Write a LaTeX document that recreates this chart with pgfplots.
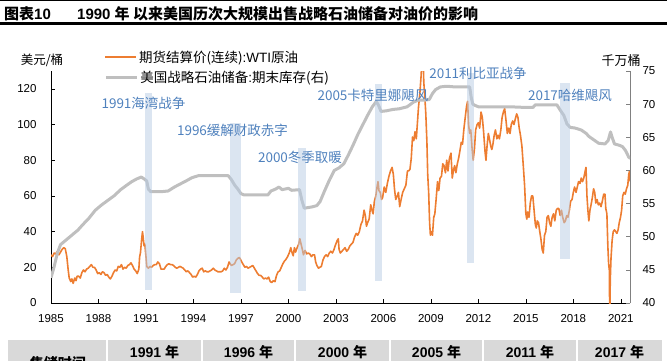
\documentclass[border=0pt]{standalone}
\usepackage{pgfplots}
\pgfplotsset{compat=1.18}
\usepackage{fontspec}
\setmainfont{Liberation Sans}
\newfontfamily\cjk{Noto Sans CJK SC}
\definecolor{wti}{HTML}{ED7D31}
\definecolor{spr}{HTML}{BFBFBF}
\definecolor{anno}{HTML}{4F81BD}
\definecolor{band}{HTML}{B8CCE4}
\definecolor{tbl}{HTML}{D9D9D9}
\pgfplotsset{
  base/.style={scale only axis, width=579pt, height=232pt, at={(51pt,57pt)}, anchor=south west,
    xmin=1985, xmax=2021.58, /pgf/number format/assume math mode=true,
    tick label style={font=\fontsize{11.5}{13}\selectfont},
    legend style={draw=none, fill=none, anchor=west, font=\fontsize{13.5}{15}\selectfont, inner sep=0pt},
    legend cell align=left,
    legend image code/.code={\draw[##1] (0pt,0pt) -- (31pt,0pt);}},
}
\begin{document}
\begin{tikzpicture}[x=1pt,y=1pt]
\useasboundingbox (0,0) rectangle (667,360);
\clip (0,0) rectangle (667,360);
% title bar
\draw[line width=1pt] (0,359.4) -- (667,359.4);
\draw[line width=2.2pt] (0,336.5) -- (667,336.5);
\node[anchor=west, inner sep=0] at (4,346.5) {\fontsize{15}{18}\selectfont\bfseries{\cjk 图表}10};
\node[anchor=west, inner sep=0] at (77,346.5) {\fontsize{15}{18}\selectfont\bfseries 1990 {\cjk 年 以来美国历次大规模出售战略石油储备对油价的影响}};

% left axis: WTI
\begin{axis}[base, ymin=0, ymax=130,
  axis x line*=bottom, axis y line*=left, axis line style={-, black, line width=0.7pt},
  xtick={1985,1988,...,2021}, minor x tick num=2,
  ytick={0,20,...,120},
  tick align=inside, major tick length=4pt, minor tick length=4pt,
  every tick/.style={black, line width=0.6pt},
  xticklabel style={/pgf/number format/1000 sep={}, yshift=-8pt},
  yticklabel style={xshift=-11pt},
  legend style={at={(0.092,1.060)}},
]
\addplot[wti, line width=1.6pt, line join=round] table[row sep=\\] {
x y\\
1985.00 27\\ 1985.10 26\\ 1985.20 28\\ 1985.30 27.5\\ 1985.40 29\\ 1985.50 27\\ 1985.60 28.5\\ 1985.70 30\\ 1985.80 31\\ 1985.90 30.5\\
1986.00 26\\ 1986.08 19\\ 1986.15 14\\ 1986.25 12\\ 1986.32 13.5\\ 1986.40 11\\ 1986.50 14\\ 1986.58 12.5\\ 1986.65 15\\ 1986.75 15\\ 1986.85 14\\ 1986.95 17\\
1987.05 18.5\\ 1987.15 17.5\\ 1987.25 19\\ 1987.35 19.5\\ 1987.45 20.5\\ 1987.55 21.5\\ 1987.65 20\\ 1987.75 20\\ 1987.85 18.5\\ 1987.95 16.5\\
1988.05 17\\ 1988.15 16\\ 1988.25 17.5\\ 1988.35 17\\ 1988.45 15.5\\ 1988.55 16\\ 1988.65 14.5\\ 1988.75 13.5\\ 1988.85 15\\ 1988.95 17\\
1989.05 18.5\\ 1989.15 18\\ 1989.25 20.5\\ 1989.35 20\\ 1989.45 21.5\\ 1989.55 19\\ 1989.65 20\\ 1989.75 19.5\\ 1989.85 21\\ 1989.95 21.5\\
1990.05 22.5\\ 1990.15 21\\ 1990.25 19\\ 1990.35 18\\ 1990.45 16.5\\ 1990.55 19\\ 1990.60 26\\ 1990.65 28\\ 1990.72 35\\ 1990.78 40\\ 1990.82 37\\ 1990.88 32\\ 1990.93 33\\
1991.00 26\\ 1991.05 20.5\\ 1991.15 19.5\\ 1991.25 20.5\\ 1991.35 20\\ 1991.45 21\\ 1991.55 21.5\\ 1991.65 21.5\\ 1991.75 23\\ 1991.85 22\\ 1991.95 19\\
1992.05 19\\ 1992.15 19\\ 1992.25 20.5\\ 1992.35 21.5\\ 1992.45 22\\ 1992.55 21.5\\ 1992.65 21.5\\ 1992.75 21\\ 1992.85 20\\ 1992.95 19.5\\
1993.05 20\\ 1993.15 20.5\\ 1993.25 20\\ 1993.35 19.5\\ 1993.45 18.5\\ 1993.55 17.5\\ 1993.65 18\\ 1993.75 17\\ 1993.85 16\\ 1993.95 14.5\\
1994.05 15\\ 1994.15 14.5\\ 1994.25 16\\ 1994.35 18\\ 1994.45 19\\ 1994.55 19.5\\ 1994.65 17.5\\ 1994.75 18\\ 1994.85 17.5\\ 1994.95 17.5\\
1995.05 18\\ 1995.15 18.5\\ 1995.25 19.5\\ 1995.35 18.5\\ 1995.45 18\\ 1995.55 17.5\\ 1995.65 17.5\\ 1995.75 17.5\\ 1995.85 18\\ 1995.95 19.5\\
1996.05 18.5\\ 1996.15 20\\ 1996.25 23\\ 1996.32 22\\ 1996.40 21\\ 1996.50 21.5\\ 1996.60 22\\ 1996.70 24\\ 1996.80 25\\ 1996.90 25.5\\ 1996.97 24.5\\
1997.05 23\\ 1997.15 21.5\\ 1997.25 20\\ 1997.35 20.5\\ 1997.45 19.5\\ 1997.55 20\\ 1997.65 20.5\\ 1997.75 21\\ 1997.85 19.5\\ 1997.95 18\\
1998.05 16.5\\ 1998.15 15.5\\ 1998.25 15.5\\ 1998.35 14.5\\ 1998.45 13.5\\ 1998.55 14\\ 1998.65 13.5\\ 1998.75 14.5\\ 1998.85 12\\ 1998.95 11.5\\
1999.05 12.5\\ 1999.15 12\\ 1999.25 15.5\\ 1999.35 17.5\\ 1999.45 18\\ 1999.55 20\\ 1999.65 22\\ 1999.75 23.5\\ 1999.85 24.5\\ 1999.95 26\\
2000.05 28\\ 2000.15 31\\ 2000.20 29\\ 2000.30 26.5\\ 2000.38 31\\ 2000.45 28.5\\ 2000.55 31\\ 2000.65 33\\ 2000.72 36\\ 2000.80 33\\ 2000.88 30\\ 2000.95 27\\
2001.05 29.5\\ 2001.15 27.5\\ 2001.25 28\\ 2001.35 27.5\\ 2001.45 26\\ 2001.55 27\\ 2001.65 27\\ 2001.72 23\\ 2001.80 21\\ 2001.90 19.5\\ 2001.98 20\\
2002.08 20.5\\ 2002.18 24\\ 2002.28 26\\ 2002.38 27\\ 2002.48 26\\ 2002.58 28\\ 2002.68 29\\ 2002.78 28\\ 2002.88 30\\ 2002.95 32\\
2003.08 35\\ 2003.15 36\\ 2003.20 30\\ 2003.28 28\\ 2003.38 29\\ 2003.48 30\\ 2003.58 31\\ 2003.68 29\\ 2003.78 30\\ 2003.88 32\\ 2003.98 33\\
2004.08 34\\ 2004.18 37\\ 2004.28 39\\ 2004.38 38\\ 2004.48 40\\ 2004.58 44\\ 2004.68 46\\ 2004.78 52\\ 2004.86 49\\ 2004.93 43\\
2005.00 45\\ 2005.10 47\\ 2005.20 55\\ 2005.28 52\\ 2005.35 50\\ 2005.43 57\\ 2005.52 60\\ 2005.60 65\\ 2005.66 68\\ 2005.72 63\\ 2005.80 62\\ 2005.88 58\\ 2005.95 59\\
2006.05 65\\ 2006.15 62\\ 2006.25 67\\ 2006.35 71\\ 2006.45 74\\ 2006.55 76\\ 2006.63 72\\ 2006.70 64\\ 2006.78 58\\ 2006.88 60\\ 2006.95 62\\
2007.03 54\\ 2007.12 58\\ 2007.22 62\\ 2007.32 64\\ 2007.42 66\\ 2007.52 74\\ 2007.60 74\\ 2007.68 75\\ 2007.76 81\\ 2007.84 93\\ 2007.92 91\\
2008.00 96\\ 2008.08 92\\ 2008.15 101\\ 2008.22 110\\ 2008.30 117\\ 2008.38 127\\ 2008.45 138\\ 2008.50 145\\ 2008.55 124\\ 2008.62 115\\ 2008.68 106\\ 2008.75 90\\ 2008.80 72\\ 2008.86 62\\ 2008.92 45\\ 2008.97 38\\
2009.02 40\\ 2009.10 38\\ 2009.18 48\\ 2009.25 50\\ 2009.33 58\\ 2009.42 68\\ 2009.50 63\\ 2009.58 70\\ 2009.67 71\\ 2009.75 78\\ 2009.83 77\\ 2009.92 73\\
2010.00 80\\ 2010.08 74\\ 2010.17 81\\ 2010.27 84\\ 2010.35 70\\ 2010.42 74\\ 2010.50 77\\ 2010.58 73\\ 2010.67 78\\ 2010.75 81\\ 2010.83 85\\ 2010.92 90\\
2011.00 89\\ 2011.08 97\\ 2011.17 104\\ 2011.25 110\\ 2011.32 113\\ 2011.38 100\\ 2011.45 95\\ 2011.52 97\\ 2011.60 87\\ 2011.67 80\\ 2011.75 86\\ 2011.83 97\\ 2011.92 100\\
2012.00 101\\ 2012.08 98\\ 2012.17 107\\ 2012.25 104\\ 2012.33 96\\ 2012.42 85\\ 2012.48 80\\ 2012.55 88\\ 2012.63 95\\ 2012.70 92\\ 2012.78 88\\ 2012.85 86\\ 2012.92 89\\
2013.00 94\\ 2013.08 97\\ 2013.17 92\\ 2013.25 94\\ 2013.33 92\\ 2013.42 97\\ 2013.50 104\\ 2013.58 107\\ 2013.66 109\\ 2013.75 102\\ 2013.83 95\\ 2013.92 98\\
2014.00 95\\ 2014.08 100\\ 2014.17 102\\ 2014.25 100\\ 2014.33 103\\ 2014.42 106\\ 2014.50 104\\ 2014.58 98\\ 2014.66 94\\ 2014.75 88\\ 2014.83 78\\ 2014.92 66\\
2015.00 50\\ 2015.06 47\\ 2015.12 51\\ 2015.20 48\\ 2015.28 56\\ 2015.36 60\\ 2015.44 60\\ 2015.52 52\\ 2015.60 44\\ 2015.66 42\\ 2015.72 46\\ 2015.80 45\\ 2015.88 40\\ 2015.95 36\\
2016.03 30\\ 2016.10 28\\ 2016.18 38\\ 2016.26 40\\ 2016.34 48\\ 2016.42 49\\ 2016.50 45\\ 2016.58 43\\ 2016.66 48\\ 2016.75 50\\ 2016.83 46\\ 2016.92 52\\
2017.00 53\\ 2017.08 53\\ 2017.17 49\\ 2017.25 52\\ 2017.33 48\\ 2017.42 45\\ 2017.50 46\\ 2017.58 49\\ 2017.66 48\\ 2017.75 52\\ 2017.83 57\\ 2017.92 58\\
2018.00 62\\ 2018.08 65\\ 2018.17 62\\ 2018.25 65\\ 2018.33 68\\ 2018.42 67\\ 2018.50 70\\ 2018.58 68\\ 2018.66 70\\ 2018.75 74\\ 2018.80 76\\ 2018.86 60\\ 2018.92 52\\ 2018.98 46\\
2019.05 52\\ 2019.12 55\\ 2019.20 59\\ 2019.28 64\\ 2019.35 62\\ 2019.42 56\\ 2019.50 58\\ 2019.58 55\\ 2019.66 56\\ 2019.75 54\\ 2019.83 57\\ 2019.92 61\\
2020.00 61\\ 2020.05 53\\ 2020.12 50\\ 2020.18 32\\ 2020.23 22\\ 2020.28 18\\ 2020.31 -37\\ 2020.33 12\\ 2020.38 25\\ 2020.45 35\\ 2020.52 40\\ 2020.60 41\\ 2020.68 40\\ 2020.75 39\\ 2020.83 41\\ 2020.90 45\\ 2020.98 48\\
2021.05 52\\ 2021.12 60\\ 2021.20 62\\ 2021.28 61\\ 2021.36 64\\ 2021.44 66\\ 2021.50 72\\ 2021.55 74\\ 2021.60 68\\
};
\addlegendentry{{\cjk 期货结算价(连续)}:WTI{\cjk 原油}}
\end{axis}

% right axis: SPR
\begin{axis}[base, ymin=40, ymax=75,
  axis y line*=right, axis x line=none,
  axis line style={-, color=gray, line width=0.7pt},
  ytick={40,45,...,75},
  tick align=inside, major tick length=4pt,
  every tick/.style={gray, line width=0.6pt},
  yticklabel style={xshift=9pt},
  legend style={at={(0.092,0.970)}},
]
\addplot[spr, line width=3pt, line join=round] coordinates {
(1985.0,43.8) (1985.2,45.5) (1985.4,47.5) (1985.6,48.8) (1985.9,49.4) (1986.3,50.2) (1986.7,51) (1987.0,51.8)
(1987.4,52.8) (1987.8,54) (1988.2,54.8) (1988.6,55.5) (1989.0,56.2) (1989.4,57.1) (1989.8,57.8) (1990.1,58.3)
(1990.4,58.7) (1990.7,59) (1990.9,58.7) (1991.05,58.4) (1991.15,57.2) (1991.3,56.8) (1991.6,56.8) (1992.0,56.8)
(1992.4,56.9) (1992.8,57.5) (1993.2,58) (1993.6,58.5) (1993.9,58.9) (1994.3,59.2) (1995.0,59.2) (1996.2,59.2)
(1996.4,58.6) (1996.6,57.8) (1996.8,57.2) (1997.0,56.5) (1997.2,56.3) (1998.0,56.3) (1998.7,56.3) (1998.9,56.9)
(1999.2,57.2) (1999.4,57.5) (1999.6,57.1) (1999.8,57.2) (2000.0,57.3) (2000.2,57.0) (2000.7,57.1) (2000.85,55.5)
(2001.0,54.3) (2001.5,54.5) (2001.8,54.7) (2002.0,55.3) (2002.3,57) (2002.6,58.6) (2002.9,60.0) (2003.2,60.4)
(2003.5,61.0) (2003.8,62.4) (2004.1,63.9) (2004.4,65.5) (2004.7,66.9) (2005.0,68.3) (2005.3,69.6) (2005.55,70.4)
(2005.7,69.8) (2005.85,68.9) (2006.2,69.0) (2006.6,69.2) (2007.0,69.3) (2007.5,69.6) (2007.9,70.3) (2008.2,70.6)
(2008.6,70.6) (2008.9,70.7) (2009.1,71.6) (2009.3,72.2) (2009.6,72.6) (2010.0,72.7) (2010.5,72.6) (2011.0,72.6)
(2011.45,72.6) (2011.55,71.0) (2011.65,70.0) (2011.8,69.8) (2012.0,69.6) (2013.0,69.6) (2014.0,69.6) (2015.0,69.5)
(2015.45,69.5) (2015.6,69.9) (2016.0,69.9) (2016.96,69.9) (2017.2,69.0) (2017.4,68.3) (2017.6,67.0) (2017.8,66.5)
(2018.1,66.4) (2018.5,66.1) (2018.8,65.6) (2019.0,65.1) (2019.3,64.6) (2019.6,64.1) (2020.0,64.0) (2020.2,64.5)
(2020.35,65.8) (2020.45,65.0) (2020.6,64.0) (2020.9,63.8) (2021.1,63.6) (2021.3,63.0) (2021.5,62.0) (2021.6,61.8)
};
\addlegendentry{{\cjk 美国战略石油储备}:{\cjk 期末库存(右)}}
\end{axis}

% overlay: release periods
\begin{axis}[base, ymin=0, ymax=130, hide axis]
\addplot[fill=band, draw=none, fill opacity=0.5] coordinates {(1990.92,7.3) (1991.36,7.3) (1991.36,117.7) (1990.92,117.7)} -- cycle;
\addplot[fill=band, draw=none, fill opacity=0.5] coordinates {(1996.28,5.6) (1997.00,5.6) (1997.00,101) (1996.28,101)} -- cycle;
\addplot[fill=band, draw=none, fill opacity=0.5] coordinates {(2000.63,6.9) (2001.13,6.9) (2001.13,87) (2000.63,87)} -- cycle;
\addplot[fill=band, draw=none, fill opacity=0.5] coordinates {(2005.48,12.3) (2005.94,12.3) (2005.94,122.6) (2005.48,122.6)} -- cycle;
\addplot[fill=band, draw=none, fill opacity=0.5] coordinates {(2011.30,22.3) (2011.72,22.3) (2011.72,129) (2011.30,129)} -- cycle;
\addplot[fill=band, draw=none, fill opacity=0.5] coordinates {(2017.14,24.5) (2017.81,24.5) (2017.81,123.5) (2017.14,123.5)} -- cycle;
\end{axis}

% annotations
\begin{scope}[every node/.style={inner sep=0, text=anno, font=\cjk\fontsize{13.5}{15}\selectfont}]
\node at (143.5,257) {1991海湾战争};
\node at (232.5,230) {1996缓解财政赤字};
\node at (300,203) {2000冬季取暖};
\node at (373,265) {2005卡特里娜飓风};
\node at (478,287) {2011利比亚战争};
\node at (570,265) {2017哈维飓风};
\end{scope}
\node[inner sep=0] at (42,300) {\cjk\fontsize{12.5}{14}\selectfont 美元/桶};
\node[inner sep=0] at (621,299) {\cjk\fontsize{13}{14}\selectfont 千万桶};

% table header (cut off at the bottom edge, as in the source)
\fill[tbl] (8,-10) rectangle (662,20);
\foreach \xx in {107,202,295,390,483,577} {\draw[white, line width=1.5pt] (\xx,-10) -- (\xx,20);}
\begin{scope}[every node/.style={inner sep=0, font=\fontsize{14}{16}\selectfont\bfseries}]
\node at (154.5,8) {1991 {\cjk 年}};
\node at (248.5,8) {1996 {\cjk 年}};
\node at (342.5,8) {2000 {\cjk 年}};
\node at (436.5,8) {2005 {\cjk 年}};
\node at (530,8) {2011 {\cjk 年}};
\node at (619.5,8) {2017 {\cjk 年}};
\node at (58,-3) {\cjk 售储时间};
\end{scope}
\end{tikzpicture}
\end{document}
